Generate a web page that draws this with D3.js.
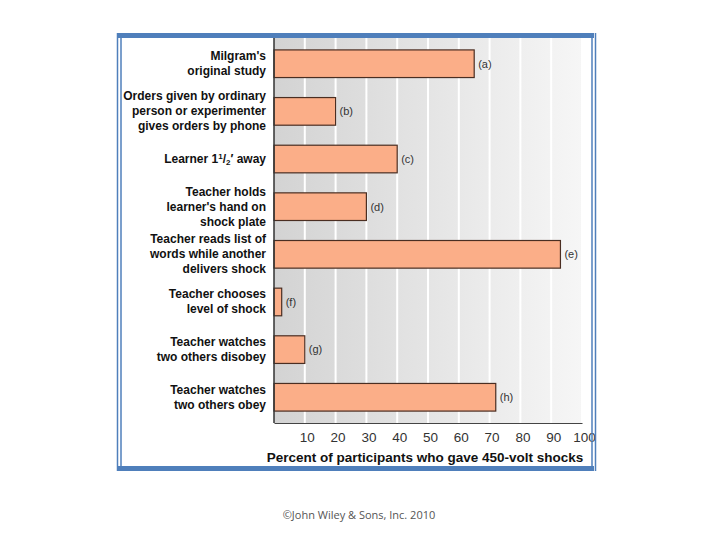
<!DOCTYPE html>
<html>
<head>
<meta charset="utf-8">
<script src="https://cdn.jsdelivr.net/npm/d3@7.9.0/dist/d3.min.js"></script>
<style>
  html, body { margin: 0; padding: 0; background: #fff; }
  svg { display: block; }
  text { font-family: "Liberation Sans", Arial, sans-serif; }
</style>
</head>
<body>
<svg id="chart" width="720" height="540"></svg>
<script>
// data
const conditions = [
  ["Milgram's", "original study"],
  ["Orders given by ordinary", "person or experimenter", "gives orders by phone"],
  ["Learner 1½′ away"],
  ["Teacher holds", "learner's hand on", "shock plate"],
  ["Teacher reads list of", "words while another", "delivers shock"],
  ["Teacher chooses", "level of shock"],
  ["Teacher watches", "two others disobey"],
  ["Teacher watches", "two others obey"],
];
const percents = [65, 20, 40, 30, 93, 2.5, 10, 72];
const tags = ["(a)", "(b)", "(c)", "(d)", "(e)", "(f)", "(g)", "(h)"];
const tickValues = [10, 20, 30, 40, 50, 60, 70, 80, 90, 100];
const axisTitle = "Percent of participants who gave 450-volt shocks";
const credit = "©John Wiley & Sons, Inc. 2010";

const svg = d3.select('#chart');

const plot = { left: 274, right: 582, top: 38, bottom: 423 };

const x = d3.scaleLinear().domain([0, 100]).range([plot.left, plot.right]);
const y = d3.scaleBand()
  .domain(d3.range(conditions.length))
  .range([plot.top, plot.bottom])
  .paddingInner(0.42)
  .paddingOuter(0.25);

// background gradient of the plot area
const defs = svg.append('defs');
const grad = defs.append('linearGradient').attr('id', 'bg')
  .attr('x1', '0%').attr('x2', '100%').attr('y1', '0%').attr('y2', '0%');
grad.append('stop').attr('offset', '0%').attr('stop-color', '#d3d3d3');
grad.append('stop').attr('offset', '100%').attr('stop-color', '#f6f6f6');

svg.append('rect')
  .attr('x', plot.left).attr('y', plot.top)
  .attr('width', plot.right - plot.left).attr('height', plot.bottom - plot.top)
  .attr('fill', 'url(#bg)');

// white gridlines
svg.append('g')
  .selectAll('line')
  .data(tickValues)
  .join('line')
  .attr('x1', d => x(d)).attr('x2', d => x(d))
  .attr('y1', plot.top).attr('y2', plot.bottom)
  .attr('stroke', '#fff')
  .attr('stroke-width', 2);

// bars
svg.append('g')
  .selectAll('rect')
  .data(percents)
  .join('rect')
  .attr('x', x(0))
  .attr('y', (d, i) => y(i))
  .attr('width', d => x(d) - x(0))
  .attr('height', y.bandwidth())
  .attr('fill', '#fbae88')
  .attr('stroke', '#4a2e22')
  .attr('stroke-width', 1.2);

// bar tags
svg.append('g')
  .selectAll('text')
  .data(percents)
  .join('text')
  .attr('x', d => x(d) + 4)
  .attr('y', (d, i) => y(i) + y.bandwidth() / 2)
  .attr('dy', '0.35em')
  .attr('font-size', 11)
  .attr('fill', '#333')
  .text((d, i) => tags[i]);

// axes lines
svg.append('line')
  .attr('x1', plot.left).attr('x2', plot.left)
  .attr('y1', plot.top).attr('y2', plot.bottom)
  .attr('stroke', '#333').attr('stroke-width', 1.5);

const xAxis = svg.append('g')
  .attr('transform', `translate(0, ${plot.bottom})`)
  .call(d3.axisBottom(x).tickValues(tickValues).tickSize(0).tickPadding(9));
xAxis.select('.domain').attr('stroke', '#444').attr('stroke-width', 1.2);
xAxis.selectAll('text')
  .attr('font-size', 13.5)
  .attr('fill', '#333')
  .attr('dx', 2)
  .style('font-family', '"Liberation Sans", Arial, sans-serif');

svg.append('text')
  .attr('x', 425).attr('y', 462)
  .attr('text-anchor', 'middle')
  .attr('font-size', 13.5)
  .attr('font-weight', 'bold')
  .attr('fill', '#111')
  .text(axisTitle);

// category labels
const lineH = 15;
const labelG = svg.append('g');
conditions.forEach((lines, i) => {
  const cy = y(i) + y.bandwidth() / 2;
  const t = labelG.append('text')
    .attr('x', 266)
    .attr('text-anchor', 'end')
    .attr('font-size', 12)
    .attr('font-weight', 'bold')
    .attr('fill', '#111');
  lines.forEach((line, j) => {
    const yy = cy + (j - (lines.length - 1) / 2) * lineH + 4;
    if (line.includes('½')) {
      const [pre, post] = line.split('½');
      t.append('tspan').attr('x', 266).attr('y', yy).text(pre);
      t.append('tspan').attr('font-size', 8).attr('dy', -4).text('1');
      t.append('tspan').attr('dy', 4).text('/');
      t.append('tspan').attr('font-size', 8).attr('dy', 2).text('2');
      t.append('tspan').attr('dy', -2).text(post);
    } else {
      t.append('tspan').attr('x', 266).attr('y', yy).text(line);
    }
  });
});

// frame
const blue = '#4f7fbb';
svg.append('rect').attr('x', 117).attr('y', 33).attr('width', 477).attr('height', 5).attr('fill', blue);
svg.append('rect').attr('x', 117).attr('y', 466).attr('width', 477).attr('height', 5).attr('fill', blue);
[117.5, 121, 592, 595.5].forEach(xx => {
  svg.append('line')
    .attr('x1', xx).attr('x2', xx)
    .attr('y1', 33).attr('y2', 471)
    .attr('stroke', blue).attr('stroke-width', 1.5);
});

// credit line
svg.append('text')
  .attr('x', 359).attr('y', 519)
  .attr('text-anchor', 'middle')
  .attr('font-size', 11)
  .attr('fill', '#555')
  .style('font-family', '"Open Sans", sans-serif')
  .text(credit);
</script>
</body>
</html>
